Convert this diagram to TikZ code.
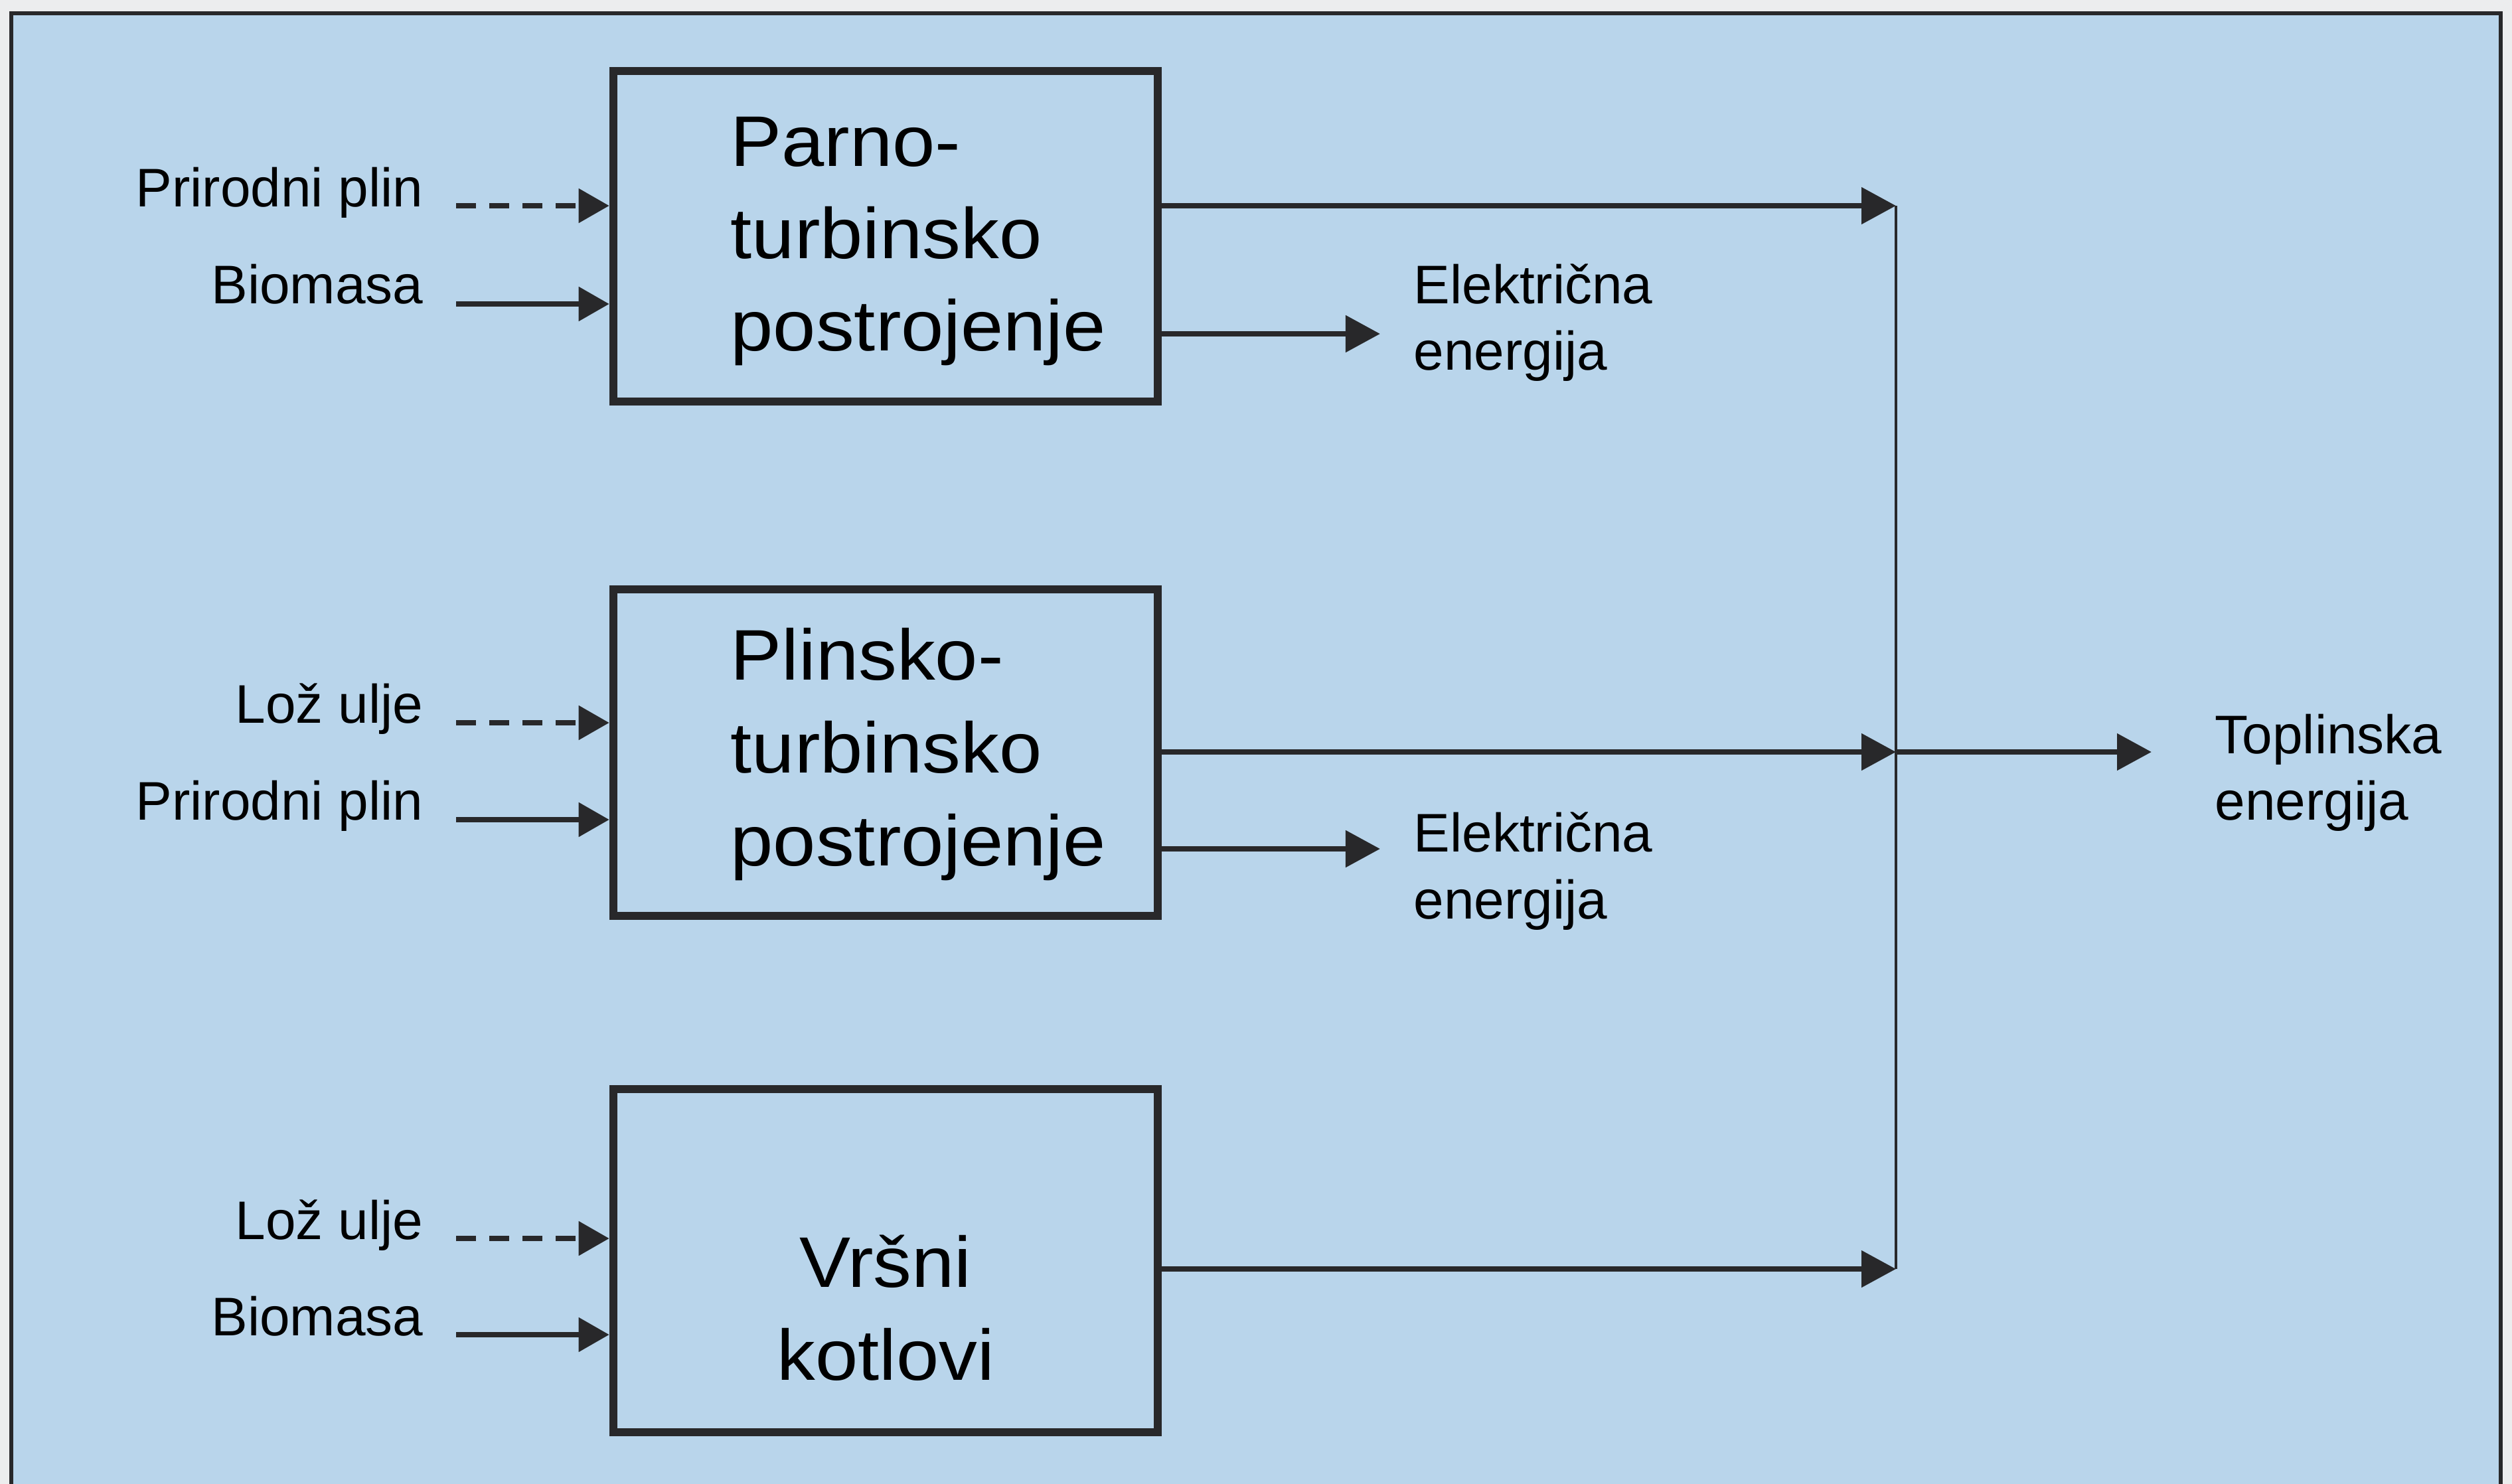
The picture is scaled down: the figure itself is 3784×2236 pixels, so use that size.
\documentclass[tikz,border=0pt]{standalone}
\usepackage{fontspec}
\setmainfont{Liberation Sans}
\newfontfamily\boxfont[FakeStretch=1.07]{Liberation Sans}
\usetikzlibrary{arrows.meta}
\definecolor{bg}{RGB}{185,213,235}
\definecolor{paper}{RGB}{236,237,238}
\definecolor{ink}{RGB}{40,40,42}
\begin{document}
\begin{tikzpicture}[x=0.01cm,y=-0.01cm,
  box/.style={draw=ink, line width=0.12cm, minimum width=8.2cm, inner sep=0pt},
  lbl/.style={font=\fontsize{23.3}{28}\selectfont, inner sep=0pt, text=black},
  btxt/.style={font=\boxfont\fontsize{30.7}{37}\selectfont, inner sep=0pt, text=black},
  inarrow/.style={draw=ink, line width=0.085cm, -{Triangle[length=0.46cm,width=0.5cm]}},
  inarrowd/.style={inarrow, dash pattern=on 0.3cm off 0.2cm},
  outarrow/.style={draw=ink, line width=0.085cm, -{Triangle[length=0.52cm,width=0.54cm]}},
  coll/.style={draw=ink, line width=0.045cm}]
\useasboundingbox (0,0) rectangle (3784,2236);
\fill[paper] (0,0) rectangle (3784,2236);
\fill[bg] (17,20) rectangle (3767,2236);
\draw[ink, line width=0.06cm] (17,2236) -- (17,20) -- (3767,20) -- (3767,2236);

% boxes
\node[box, minimum height=4.98cm] (b1) at (1334,356) {};
\node[box, minimum height=4.92cm] (b2) at (1334,1134) {};
\node[box, minimum height=5.17cm] (b3) at (1334,1899.5) {};

% box texts
\node[btxt, anchor=base west] (b1t1) at (1100,250) {Parno-};
\node[btxt, anchor=base west] (b1t2) at (1100,389) {turbinsko};
\node[btxt, anchor=base west] (b1t3) at (1100,528) {postrojenje};
\node[btxt, anchor=base west] (b2t1) at (1100,1024) {Plinsko-};
\node[btxt, anchor=base west] (b2t2) at (1100,1164) {turbinsko};
\node[btxt, anchor=base west] (b2t3) at (1100,1304) {postrojenje};
\node[btxt, anchor=base] (b3t1) at (1334,1939) {Vršni};
\node[btxt, anchor=base] (b3t2) at (1334,2079) {kotlovi};

% input labels
\node[lbl, anchor=base east] (l1) at (638,311) {Prirodni plin};
\node[lbl, anchor=base east] (l2) at (638,457) {Biomasa};
\node[lbl, anchor=base east] (l3) at (638,1089) {Lož ulje};
\node[lbl, anchor=base east] (l4) at (638,1235) {Prirodni plin};
\node[lbl, anchor=base east] (l5) at (638,1867) {Lož ulje};
\node[lbl, anchor=base east] (l6) at (638,2012) {Biomasa};

% input arrow starts
\coordinate (s1) at (687,310);
\coordinate (s2) at (687,458);
\coordinate (s3) at (687,1089);
\coordinate (s4) at (687,1235);
\coordinate (s5) at (687,1866);
\coordinate (s6) at (687,2011);
\draw[inarrowd] (s1) -- (s1 -| b1.west);
\draw[inarrow]  (s2) -- (s2 -| b1.west);
\draw[inarrowd] (s3) -- (s3 -| b2.west);
\draw[inarrow]  (s4) -- (s4 -| b2.west);
\draw[inarrowd] (s5) -- (s5 -| b3.west);
\draw[inarrow]  (s6) -- (s6 -| b3.west);

% collector
\coordinate (j1) at (2856,310);
\coordinate (j2) at (2856,1133);
\coordinate (j3) at (2856,1912);
\draw[coll] (j1) -- (j3);
\draw[outarrow] (b1.east |- j1) -- (j1);
\draw[outarrow] (b2.east |- j2) -- (j2);
\draw[outarrow] (b3.east |- j3) -- (j3);

% electric outputs
\coordinate (e1) at (2079,503);
\coordinate (e2) at (2079,1279);
\draw[outarrow] (b1.east |- e1) -- (e1);
\draw[outarrow] (b2.east |- e2) -- (e2);
\node[lbl, anchor=base west] (el1a) at (2129,457) {Električna};
\node[lbl, anchor=base west] (el1b) at (2129,557) {energija};
\node[lbl, anchor=base west] (el2a) at (2129,1283) {Električna};
\node[lbl, anchor=base west] (el2b) at (2129,1384) {energija};

% heat output
\coordinate (h) at (3241,1133);
\draw[outarrow] (j2) -- (h);
\node[lbl, anchor=base west] (tp1) at (3336,1135) {Toplinska};
\node[lbl, anchor=base west] (tp2) at (3336,1235) {energija};
\end{tikzpicture}
\end{document}
